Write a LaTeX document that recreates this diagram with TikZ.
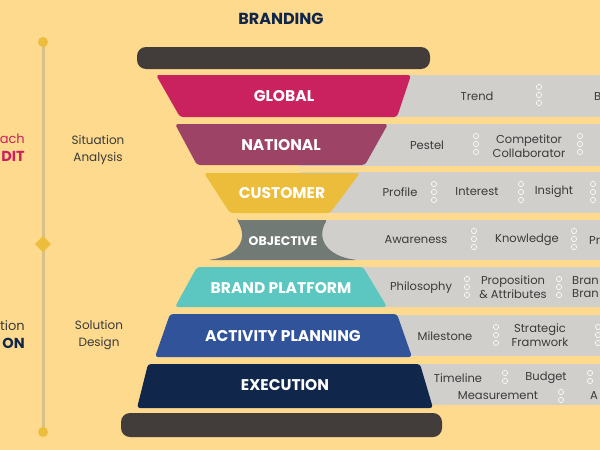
\documentclass[tikz,border=0pt]{standalone}
\usepackage{fontspec}
\setmainfont{Poppins}
\usepackage{tikz}
\usetikzlibrary{positioning}

\definecolor{bgyellow}{HTML}{FEDA8E}
\definecolor{tanline}{HTML}{D8C089}
\definecolor{gold}{HTML}{EDBE3B}
\definecolor{bardark}{HTML}{423D3B}
\definecolor{bandgrey}{HTML}{D1CFCC}
\definecolor{ink}{HTML}{3A3A3A}
\definecolor{magenta}{HTML}{C9225F}
\definecolor{plum}{HTML}{9C4366}
\definecolor{mustard}{HTML}{EBBD3B}
\definecolor{slate}{HTML}{727A76}
\definecolor{teal}{HTML}{5CC6C0}
\definecolor{royal}{HTML}{30539A}
\definecolor{navy}{HTML}{10264A}

\begin{document}
\begin{tikzpicture}[
  x=1pt, y=-1pt,
  band/.style={fill=bandgrey},
  bar/.style={fill=bardark, rounded corners=9pt},
  funnel/.style={rounded corners=3pt},
  layer/.style={font=\bfseries\fontsize{15.5}{15.5}\selectfont, text=white, inner sep=0pt},
  item/.style={font=\fontsize{11.5}{13.5}\selectfont, text=ink, align=center, inner sep=0pt},
  ring/.style={draw=white, line width=0.6pt},
  phase/.style={font=\fontsize{12}{17}\selectfont, text=ink, align=center, inner sep=0pt}
]
\useasboundingbox[fill=bgyellow] (0,0) rectangle (600,450);

% Title
\node[font=\bfseries\fontsize{16}{16}\selectfont, text=navy] (title) at (281,19) {BRANDING};

% --- Timeline on the left ---
\draw[tanline, line width=3pt] (43,42) -- (43,432);
\fill[gold] (43,42) circle[radius=5pt];
\fill[gold] (43,432) circle[radius=5pt];
\fill[gold] (43,236) -- (51,244) -- (43,252) -- (35,244) -- cycle;

\node[anchor=east, font=\fontsize{13}{13}\selectfont, text=magenta, inner sep=0pt] (appr) at (25,139) {ach};
\node[anchor=east, font=\bfseries\fontsize{14.5}{14.5}\selectfont, text=magenta, inner sep=0pt] (audit) at (25,156) {DIT};
\node[anchor=east, font=\fontsize{13}{13}\selectfont, text=ink, inner sep=0pt] (solu) at (25,326) {tion};
\node[anchor=east, font=\bfseries\fontsize{14.5}{14.5}\selectfont, text=navy, inner sep=0pt] (sol) at (25,343) {ON};

\node[phase] (situation) at (98,150) {Situation\\Analysis};
\node[phase] (design) at (99,335) {Solution\\Design};

% --- Grey bands behind the funnel ---
\fill[band] (300,75) rectangle (600,117);
\fill[band] (300,124) rectangle (600,166);
\fill[band] (300,172) rectangle (600,213);
\fill[band] (300,220) rectangle (600,260);
\fill[band] (300,267) rectangle (600,307);
\fill[band] (300,315) rectangle (600,356);
\fill[band] (300,364) rectangle (600,405);

% --- Top and bottom bars ---
\fill[bar] (137,47) rectangle (430,69);
\fill[bar] (121,413) rectangle (442,437);

% --- Funnel layers ---
\fill[funnel, magenta] (156,75) -- (411,75) -- (397,117) -- (180,117) -- cycle;
\node[layer] (global) at (284,96) {GLOBAL};

\fill[funnel, plum] (175,124) -- (388,124) -- (365,165) -- (197,165) -- cycle;
\node[layer] (national) at (281,145) {NATIONAL};

\fill[funnel, mustard] (204,173) -- (360,173) -- (330,213) -- (230,213) -- cycle;
\node[layer] (customer) at (282,193) {CUSTOMER};

\fill[slate, rounded corners=2pt] (237,220) -- (327,220)
  .. controls (316,238) and (326,256) .. (357,260) -- (208,260)
  .. controls (240,256) and (248,238) .. cycle;
\node[layer, font=\bfseries\fontsize{12.5}{12.5}\selectfont] (objective) at (283,241) {OBJECTIVE};

\fill[funnel, teal] (197,267) -- (363,267) -- (387,307) -- (175,307) -- cycle;
\node[layer] (platform) at (281,288) {BRAND PLATFORM};

\fill[funnel, royal] (170,314) -- (397,314) -- (412,357) -- (155,357) -- cycle;
\node[layer] (activity) at (283,336) {ACTIVITY PLANNING};

\fill[funnel, navy] (148,364) -- (420,364) -- (433,408) -- (137,408) -- cycle;
\node[layer] (execution) at (285,385) {EXECUTION};

% --- Items in the bands ---
\node[item] (trend) at (477,96) {Trend};
\node[item, anchor=west] (b1) at (594,96) {B};

\node[item] (pestel) at (427,145) {Pestel};
\node[item] (compet) at (529,146) {Competitor\\Collaborator};

\node[item] (profile) at (400,192) {Profile};
\node[item] (interest) at (477,192) {Interest};
\node[item] (insight) at (554,192) {Insight};

\node[item] (aware) at (416,240) {Awareness};
\node[item] (know) at (527,240) {Knowledge};
\node[item, anchor=west] (pr) at (589,240) {Pr};

\node[item] (philo) at (421,288) {Philosophy};
\node[item] (propo) at (513,287) {Proposition\\\& Attributes};
\node[item, anchor=west, align=left] (bran) at (572,287) {Bran\\Bran};

\node[item] (mile) at (445,336) {Milestone};
\node[item] (strat) at (540,335) {Strategic\\Framwork};

\node[item] (timeline) at (458,378) {Timeline};
\node[item] (budget) at (546,378) {Budget};
\node[item] (measure) at (498,396) {Measurement};
\node[item, anchor=west] (a1) at (590,396) {A};

% separators, three rings
\foreach \x/\y in {539/95, 476/144, 580/144, 434/192, 521/192, 593/192,
                   474/239, 574/239, 467/287, 559/287, 496/335, 598/335}
  \foreach \d in {-8,0,8}
    \draw[ring] (\x,\y+\d) circle[radius=2.6pt];

% separators, two rings
\foreach \x/\y in {505/377, 590/377, 561/396}
  \foreach \d in {-4,4}
    \draw[ring] (\x,\y+\d) circle[radius=2.6pt];

\end{tikzpicture}
\end{document}
